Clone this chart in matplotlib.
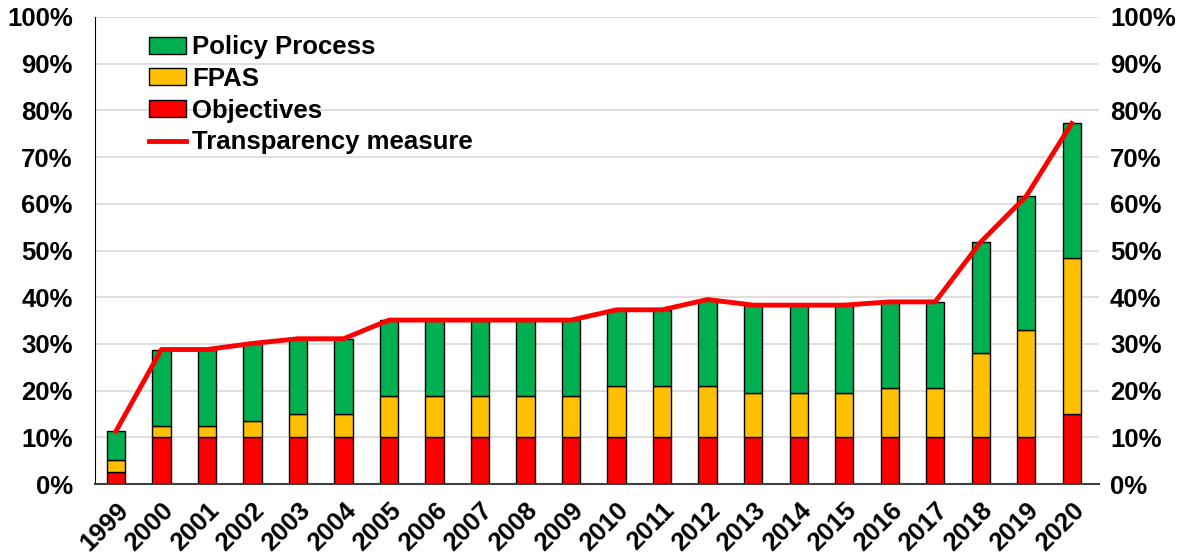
import matplotlib.pyplot as plt
import numpy as np
from matplotlib.ticker import PercentFormatter

# values, in percent
years = [str(y) for y in range(1999, 2021)]
objectives = [2.6, 10, 10, 10, 10, 10, 10, 10, 10, 10, 10, 10, 10, 10, 10, 10, 10, 10, 10, 10, 10, 15.0]
fpas = [2.5, 2.5, 2.5, 3.4, 4.9, 4.9, 8.8, 8.8, 8.8, 8.8, 8.8, 10.9, 10.9, 10.9, 9.4, 9.4, 9.4, 10.6, 10.6, 18.1, 23.0, 33.4]
policy = [6.2, 16.3, 16.3, 16.7, 16.2, 16.2, 16.3, 16.3, 16.3, 16.3, 16.3, 16.4, 16.4, 18.6, 18.9, 18.9, 18.9, 18.4, 18.4, 23.7, 28.6, 28.8]
transparency = [11.3, 28.8, 28.8, 30.1, 31.1, 31.1, 35.1, 35.1, 35.1, 35.1, 35.1, 37.3, 37.3, 39.5, 38.3, 38.3, 38.3, 39.0, 39.0, 51.8, 61.6, 77.2]

plt.rcParams['font.family'] = ['Liberation Sans', 'DejaVu Sans']
plt.rcParams['font.weight'] = 'bold'

fig = plt.figure(figsize=(11.77, 5.57), dpi=100)
ax = fig.add_axes([95 / 1177, 1 - 484 / 557, (1099 - 95) / 1177, (484 - 17) / 557])

x = np.arange(len(years))
w = 0.4
obj = np.array(objectives)
fp = np.array(fpas)
pol = np.array(policy)

ax.bar(x, obj, w, color='#ff0000', edgecolor='black', linewidth=1, label='Objectives', zorder=2)
ax.bar(x, fp, w, bottom=obj, color='#ffc000', edgecolor='black', linewidth=1, label='FPAS', zorder=2)
ax.bar(x, pol, w, bottom=obj + fp, color='#00b050', edgecolor='black', linewidth=1, label='Policy Process', zorder=2)
ax.plot(x, transparency, color='#ff0000', linewidth=3.5, label='Transparency measure', zorder=3)

ax.set_ylim(0, 100)
ax.set_xlim(-0.46, len(years) - 0.4)
ax.set_yticks(range(0, 101, 10))
ax.yaxis.set_major_formatter(PercentFormatter(decimals=0))
ax.grid(axis='y', color='#d9d9d9', linewidth=1.2, zorder=0)
ax.set_axisbelow(True)
ax.set_xticks(x)
ax.set_xticklabels(years, rotation=45, ha='right', rotation_mode='anchor')
ax.tick_params(axis='both', length=0, labelsize=18.5)
ax.tick_params(axis='y', pad=16)
ax.tick_params(axis='x', pad=10)

for s in ['top', 'right']:
    ax.spines[s].set_visible(False)
ax.spines['left'].set_color('black')
ax.spines['bottom'].set_color('#404040')
ax.spines['bottom'].set_linewidth(1.5)

ax2 = ax.twinx()
ax2.set_ylim(0, 100)
ax2.set_yticks(range(0, 101, 10))
ax2.yaxis.set_major_formatter(PercentFormatter(decimals=0))
ax2.tick_params(axis='y', length=0, labelsize=18.5, pad=8)
for s in ['top', 'right', 'left', 'bottom']:
    ax2.spines[s].set_visible(False)

# legend: Policy Process, FPAS, Objectives, Transparency measure
h, l = ax.get_legend_handles_labels()
order = [3, 2, 1, 0]
ax.legend([h[i] for i in order], [l[i] for i in order], loc='upper left',
          bbox_to_anchor=(0.038, 0.994), frameon=False, fontsize=18.5,
          handlelength=1.45, handleheight=0.65, labelspacing=0.3, handletextpad=0.25,
          borderaxespad=0.2)

fig.savefig('out.png', dpi=100)
